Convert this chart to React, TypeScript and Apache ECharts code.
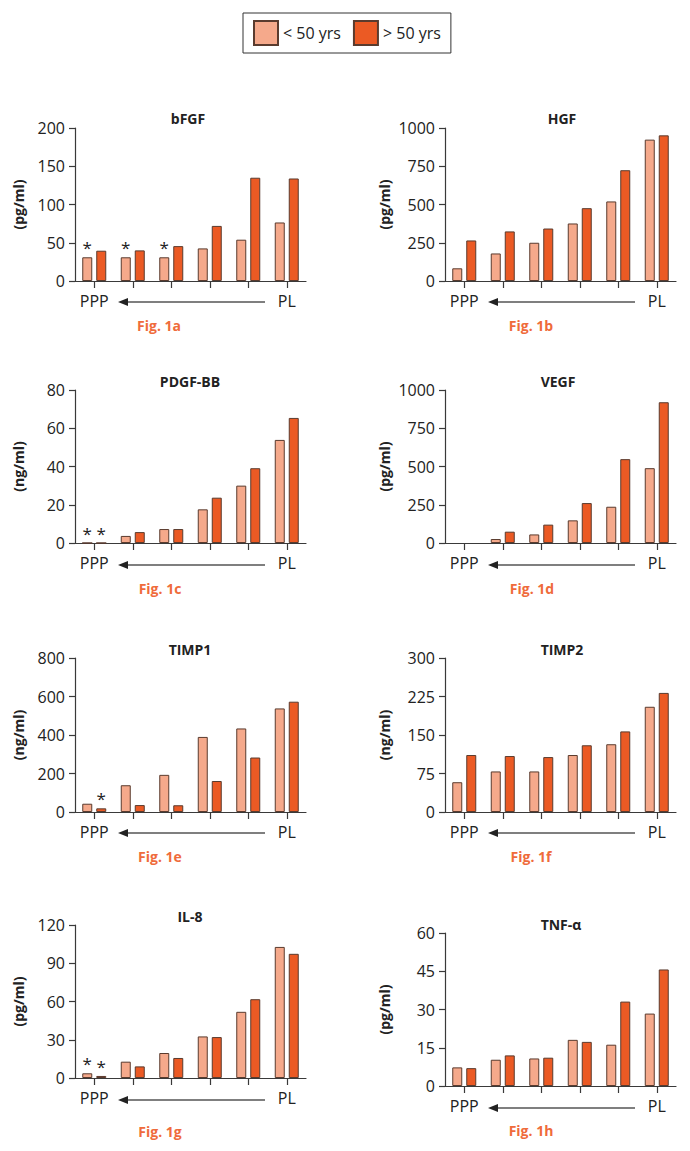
import React, { useEffect, useRef } from 'react';
import * as echarts from 'echarts';

// ---------- data ----------
const categories = ['PPP', '', '', '', '', 'PL'];
const groupNames = ['< 50 yrs', '> 50 yrs'];

const bfgfUnder = [31, 31, 31, 42.6, 54, 76.5];
const bfgfOver = [39.6, 40, 45.6, 72, 135, 134];
const bfgfStarUnder = [true, true, true, false, false, false];
const bfgfStarOver = [false, false, false, false, false, false];

const hgfUnder = [83, 180, 250, 376, 520, 924];
const hgfOver = [265, 324, 343, 476, 724, 952];

const pdgfUnder = [0, 3.7, 7.3, 17.6, 30, 53.9];
const pdgfOver = [0, 5.7, 7.3, 23.7, 39.1, 65.4];
const pdgfStarUnder = [true, false, false, false, false, false];
const pdgfStarOver = [true, false, false, false, false, false];

const vegfUnder = [null, 26, 56, 148, 237, 489];
const vegfOver = [null, 74, 120, 261, 548, 920];

const timp1Under = [43, 139, 193, 390, 434, 538];
const timp1Over = [19, 36, 35, 161, 283, 573];
const timp1StarUnder = [false, false, false, false, false, false];
const timp1StarOver = [true, false, false, false, false, false];

const timp2Under = [58, 79, 79, 111, 132, 205];
const timp2Over = [111, 109, 107, 130, 157, 232];

const il8Under = [3.7, 12.8, 19.6, 32.6, 51.9, 102.8];
const il8Over = [1.6, 9.1, 15.7, 32.1, 61.8, 97.4];
const il8StarUnder = [true, false, false, false, false, false];
const il8StarOver = [true, false, false, false, false, false];

const tnfUnder = [7.3, 10.3, 10.8, 18.1, 16.2, 28.4];
const tnfOver = [7.0, 12, 11.1, 17.3, 33.1, 45.7];

const titles = ['bFGF', 'HGF', 'PDGF-BB', 'VEGF', 'TIMP1', 'TIMP2', 'IL-8', 'TNF-α'];
const units = ['(pg/ml)', '(pg/ml)', '(ng/ml)', '(pg/ml)', '(ng/ml)', '(ng/ml)', '(pg/ml)', '(pg/ml)'];
const figLabels = ['Fig. 1a', 'Fig. 1b', 'Fig. 1c', 'Fig. 1d', 'Fig. 1e', 'Fig. 1f', 'Fig. 1g', 'Fig. 1h'];
const axisMax = [200, 1000, 80, 1000, 800, 300, 120, 60];
const axisStep = [50, 250, 20, 250, 200, 75, 30, 15];

const none = [false, false, false, false, false, false];
const underSets = [bfgfUnder, hgfUnder, pdgfUnder, vegfUnder, timp1Under, timp2Under, il8Under, tnfUnder];
const overSets = [bfgfOver, hgfOver, pdgfOver, vegfOver, timp1Over, timp2Over, il8Over, tnfOver];
const starUnderSets = [bfgfStarUnder, none, pdgfStarUnder, none, timp1StarUnder, none, il8StarUnder, none];
const starOverSets = [bfgfStarOver, none, pdgfStarOver, none, timp1StarOver, none, il8StarOver, none];

// ---------- layout ----------
const LIGHT = '#F5A98B';
const DARK = '#EB5A24';
const BORDER = '#5A3B2E';
const FIG = '#EF6B3B';
const AXIS = '#3a3a3a';
const TEXT = '#222';
const FONT = '"Open Sans", "DejaVu Sans", sans-serif';

// per panel: grid left, grid top, zero line y, title centre, fig label centre, label row y
const layout = [
  { left: 75, top: 128, zero: 281, titleX: 188, titleY: 118, figX: 159, figY: 325, rowY: 302, nameGap: 50 },
  { left: 445, top: 128, zero: 281, titleX: 562, titleY: 118, figX: 531, figY: 325, rowY: 302, nameGap: 54 },
  { left: 75, top: 390, zero: 543, titleX: 190, titleY: 381, figX: 160, figY: 588, rowY: 565, nameGap: 50 },
  { left: 445, top: 390, zero: 543, titleX: 558, titleY: 381, figX: 532, figY: 588, rowY: 565, nameGap: 54 },
  { left: 75, top: 658, zero: 812, titleX: 190, titleY: 649, figX: 160, figY: 856, rowY: 833, nameGap: 50 },
  { left: 445, top: 658, zero: 812, titleX: 562, titleY: 649, figX: 531, figY: 856, rowY: 833, nameGap: 54 },
  { left: 75, top: 925, zero: 1078, titleX: 190, titleY: 916, figX: 160, figY: 1131, rowY: 1100, nameGap: 50 },
  { left: 445, top: 933, zero: 1086, titleX: 561, titleY: 924, figX: 531, figY: 1130, rowY: 1108, nameGap: 54 },
];
const GRID_W = 231;

function buildOption() {
  const grid: any[] = [];
  const xAxis: any[] = [];
  const yAxis: any[] = [];
  const series: any[] = [];
  const graphic: any[] = [];

  layout.forEach((L, i) => {
    grid.push({ left: L.left, top: L.top, width: GRID_W, height: L.zero - L.top });
    xAxis.push({
      type: 'category',
      gridIndex: i,
      data: categories,
      axisLine: { show: true, lineStyle: { color: AXIS, width: 1.2 } },
      axisTick: { show: true, alignWithLabel: true, interval: 0, length: 7, lineStyle: { color: AXIS, width: 1.2 } },
      axisLabel: { interval: 0, margin: 12, fontSize: 16, color: TEXT, fontFamily: FONT },
    });
    yAxis.push({
      type: 'value',
      gridIndex: i,
      min: 0,
      max: axisMax[i],
      interval: axisStep[i],
      name: units[i],
      nameLocation: 'middle',
      nameRotate: 90,
      nameGap: L.nameGap,
      nameTextStyle: { fontSize: 14, fontWeight: 'bold', color: TEXT, fontFamily: FONT },
      axisLine: { show: true, lineStyle: { color: AXIS, width: 1.2 } },
      axisTick: { show: true, length: 6, lineStyle: { color: AXIS, width: 1.2 } },
      axisLabel: {
        margin: 10,
        fontSize: 16,
        color: TEXT,
        fontFamily: FONT,
        formatter: (v: number) => String(v),
      },
      splitLine: { show: false },
    });

    const mk = (vals: any[], stars: boolean[]) =>
      vals.map((v, k) =>
        stars[k]
          ? {
              value: v,
              label: {
                show: true,
                position: 'top',
                distance: 1,
                formatter: '*',
                fontSize: 17,
                color: TEXT,
                fontFamily: FONT,
              },
            }
          : v
      );

    series.push({
      type: 'bar',
      name: groupNames[0],
      xAxisIndex: i,
      yAxisIndex: i,
      barWidth: 10,
      barGap: '40%',
      itemStyle: { color: LIGHT, borderColor: BORDER, borderWidth: 1 },
      data: mk(underSets[i], starUnderSets[i]),
    });
    series.push({
      type: 'bar',
      name: groupNames[1],
      xAxisIndex: i,
      yAxisIndex: i,
      barWidth: 10,
      barGap: '40%',
      itemStyle: { color: DARK, borderColor: BORDER, borderWidth: 1 },
      data: mk(overSets[i], starOverSets[i]),
    });

    // title
    graphic.push({
      type: 'text',
      x: L.titleX,
      y: L.titleY,
      style: {
        text: titles[i],
        fill: TEXT,
        fontSize: 14,
        fontWeight: 'bold',
        fontFamily: FONT,
        align: 'center',
        verticalAlign: 'middle',
      },
    });
    // figure label
    graphic.push({
      type: 'text',
      x: L.figX,
      y: L.figY,
      style: {
        text: figLabels[i],
        fill: FIG,
        fontSize: 14,
        fontWeight: 'bold',
        fontFamily: FONT,
        align: 'center',
        verticalAlign: 'middle',
      },
    });
    // arrow from PL to PPP
    const tip = L.left + 43;
    const tail = L.left + 190;
    graphic.push({
      type: 'line',
      shape: { x1: tip + 8, y1: L.rowY, x2: tail, y2: L.rowY },
      style: { stroke: '#555', lineWidth: 1.3 },
    });
    graphic.push({
      type: 'polygon',
      shape: { points: [[tip, L.rowY], [tip + 10, L.rowY - 4], [tip + 10, L.rowY + 4]] },
      style: { fill: '#222' },
    });
  });

  return {
    animation: false,
    backgroundColor: '#fff',
    textStyle: { fontFamily: FONT },
    legend: {
      left: 243,
      top: 13,
      data: groupNames,
      icon: 'rect',
      itemWidth: 24,
      itemHeight: 24,
      itemGap: 12,
      padding: [7, 10, 7, 10],
      borderColor: '#333',
      borderWidth: 1,
      textStyle: { fontSize: 16, color: TEXT, fontFamily: FONT },
      selectedMode: false,
    },
    grid,
    xAxis,
    yAxis,
    series,
    graphic,
  };
}

export default function App() {
  const ref = useRef<HTMLDivElement>(null);
  useEffect(() => {
    const chart = echarts.init(ref.current!, null, { renderer: 'svg' });
    chart.setOption(buildOption() as any);
    return () => chart.dispose();
  }, []);
  return (
    <div
      ref={ref}
      style={{ position: 'absolute', left: 0, top: 0, width: 690, height: 1151, background: '#fff' }}
    />
  );
}
